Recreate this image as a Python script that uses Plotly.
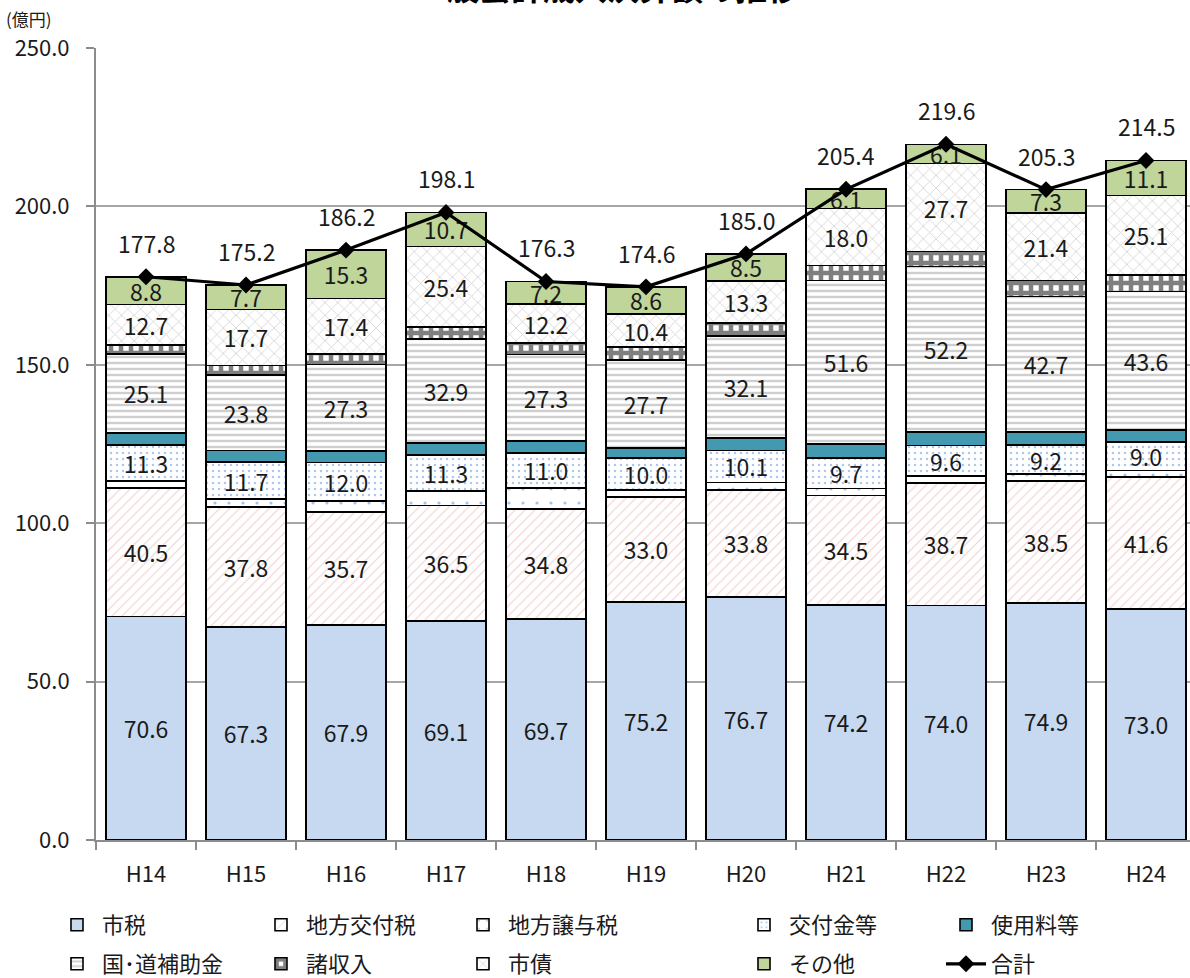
import plotly.graph_objects as go

years = ["H14", "H15", "H16", "H17", "H18", "H19", "H20", "H21", "H22", "H23", "H24"]
shizei = [70.6, 67.3, 67.9, 69.1, 69.7, 75.2, 76.7, 74.2, 74.0, 74.9, 73.0]
koufuzei = [40.5, 37.8, 35.7, 36.5, 34.8, 33.0, 33.8, 34.5, 38.7, 38.5, 41.6]
jouyozei = [2.3, 2.5, 3.5, 4.6, 6.7, 2.3, 2.4, 2.2, 2.2, 2.1, 2.0]
koufukin = [11.3, 11.7, 12.0, 11.3, 11.0, 10.0, 10.1, 9.7, 9.6, 9.2, 9.0]
shiyouryou = [3.7, 3.6, 3.7, 3.8, 3.7, 3.3, 3.9, 4.4, 4.3, 4.1, 3.9]
hojokin = [25.1, 23.8, 27.3, 32.9, 27.3, 27.7, 32.1, 51.6, 52.2, 42.7, 43.6]
shoshunyu = [2.8, 3.1, 3.4, 3.8, 3.7, 4.1, 4.2, 4.7, 4.8, 5.1, 5.2]
shisai = [12.7, 17.7, 17.4, 25.4, 12.2, 10.4, 13.3, 18.0, 27.7, 21.4, 25.1]
sonota = [8.8, 7.7, 15.3, 10.7, 7.2, 8.6, 8.5, 6.1, 6.1, 7.3, 11.1]
goukei = [177.8, 175.2, 186.2, 198.1, 176.3, 174.6, 185.0, 205.4, 219.6, 205.3, 214.5]
y_ticks = [0, 50, 100, 150, 200, 250]

FONT = "Noto Sans CJK JP"
TXT = "#1a1a1a"
W, H = 1190, 978

series = [
    ("市税", shizei, True, "#C6D9F1", None),
    ("地方交付税", koufuzei, True, "white", dict(shape="/", fgcolor="#E39C9C", bgcolor="white", size=7, solidity=0.15)),
    ("地方譲与税", jouyozei, False, "white", dict(shape=".", fgcolor="#4F86CF", bgcolor="white", size=14, solidity=0.04)),
    ("交付金等", koufukin, True, "white", dict(shape=".", fgcolor="#5B8FD6", bgcolor="white", size=6, solidity=0.14)),
    ("使用料等", shiyouryou, False, "#4399B0", None),
    ("国･道補助金", hojokin, True, "white", dict(shape="-", fgcolor="#a0a0a0", bgcolor="white", size=6, solidity=0.4)),
    ("諸収入", shoshunyu, False, "white", dict(shape="+", fgcolor="black", bgcolor="white", size=10, solidity=0.7)),
    ("市債", shisai, True, "white", dict(shape="x", fgcolor="#b3b3b3", bgcolor="white", size=9, solidity=0.2)),
    ("その他", sonota, True, "#BFD59A", None),
]

cols_x = [103, 307, 509, 790, 992]
rows_y = [925, 964]
legend_slots = {
    "市税": (0, 0), "地方交付税": (1, 0), "地方譲与税": (2, 0), "交付金等": (3, 0), "使用料等": (4, 0),
    "国･道補助金": (0, 1), "諸収入": (1, 1), "市債": (2, 1), "その他": (3, 1), "合計": (4, 1),
}
names_order = ["市税", "地方交付税", "地方譲与税", "交付金等", "使用料等",
               "国･道補助金", "諸収入", "市債", "その他", "合計"]
legend_ids = {n: ("legend" if i == 0 else f"legend{i + 1}") for i, n in enumerate(names_order)}

fig = go.Figure()
for name, vals, labeled, fill, pat in series:
    marker = dict(color=fill, line=dict(color="black", width=1.6))
    if pat:
        marker["pattern"] = pat
    fig.add_trace(go.Bar(
        x=years, y=vals, name=name, marker=marker,
        text=[f"{v:.1f}" for v in vals] if labeled else None,
        textposition="inside" if labeled else "none",
        insidetextanchor="middle", textangle=0,
        textfont=dict(family=FONT, size=23, color=TXT),
        legend=legend_ids[name], hoverinfo="skip",
    ))

fig.add_trace(go.Scatter(
    x=years, y=goukei, name="合計", mode="lines+markers",
    line=dict(color="black", width=3.2),
    marker=dict(symbol="diamond", size=13, color="black"),
    legend=legend_ids["合計"], hoverinfo="skip",
))

annotations = []
for yr, t in zip(years, goukei):
    annotations.append(dict(x=yr, y=t, text=f"{t:.1f}", showarrow=False, yshift=34,
                            font=dict(family=FONT, size=23, color=TXT)))

plot_top, plot_bot = 48, 840
ph = plot_bot - plot_top
pw = W - 96
annotations.append(dict(xref="paper", yref="paper", x=-92 / pw, y=1 + (plot_top - 18) / ph,
                        xanchor="left", yanchor="middle", text="(億円)", showarrow=False,
                        font=dict(family=FONT, size=17, color=TXT)))
annotations.append(dict(xref="paper", yref="paper", x=(607 - 96) / pw, y=1 + (plot_top + 14) / ph,
                        xanchor="center", yanchor="middle", text="<b>一般会計歳入決算額の推移</b>",
                        showarrow=False, font=dict(family=FONT, size=32, color="black")))

layout_legends = {}
for n in names_order:
    c, r = legend_slots[n]
    layout_legends[legend_ids[n]] = dict(
        xref="container", yref="container",
        x=(cols_x[c] - 51) / W, y=1 - rows_y[r] / H,
        xanchor="left", yanchor="middle",
        font=dict(family=FONT, size=22, color=TXT),
        bgcolor="rgba(0,0,0,0)", itemwidth=40,
    )

fig.update_layout(
    width=W, height=H,
    margin=dict(l=96, r=0, t=plot_top, b=H - plot_bot, autoexpand=False),
    barmode="stack", bargap=0.2,
    plot_bgcolor="white", paper_bgcolor="white",
    font=dict(family=FONT, size=20, color=TXT),
    showlegend=True,
    uniformtext=dict(minsize=23, mode="show"),
    annotations=annotations,
    xaxis=dict(range=[-0.5, 10.44], showline=True, linecolor="#8c8c8c", linewidth=2,
               ticks="outside", tickson="boundaries", ticklen=8, tickcolor="#8c8c8c", tickwidth=2,
               tickfont=dict(family=FONT, size=22, color=TXT), showgrid=False, ticklabelstandoff=14,
               tickangle=0),
    yaxis=dict(range=[0, 250], tickvals=y_ticks, tickformat=".1f",
               showline=True, linecolor="#8c8c8c", linewidth=2,
               ticks="outside", ticklen=8, tickcolor="#8c8c8c", tickwidth=2,
               showgrid=True, gridcolor="#a6a6a6", gridwidth=2, zeroline=False,
               tickfont=dict(family=FONT, size=22, color=TXT), ticklabelstandoff=12),
    **layout_legends,
)

fig.write_html("out.html", config={"displayModeBar": False},
               post_script="document.body.style.margin='0px';")
